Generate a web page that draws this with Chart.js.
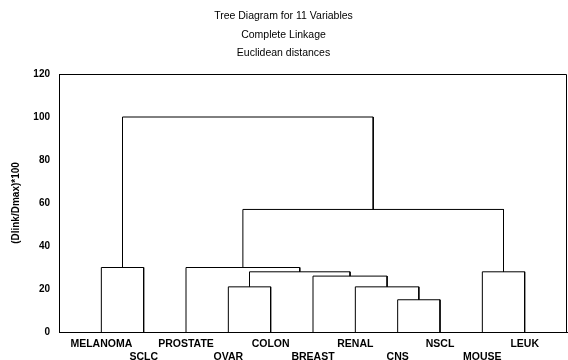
<!DOCTYPE html>
<html><head><meta charset="utf-8">
<script src="https://cdn.jsdelivr.net/npm/chart.js@4/dist/chart.umd.min.js"></script>
<style>html,body{margin:0;padding:0;background:#fff}#wrap{width:568px;height:360px;position:relative}</style>
</head><body><div id="wrap"><canvas id="c"></canvas></div>
<script>
const titleLines = ['Tree Diagram for 11 Variables', 'Complete Linkage', 'Euclidean distances'];
const yAxisTitle = '(Dlink/Dmax)*100';
const leaves = ['MELANOMA', 'SCLC', 'PROSTATE', 'OVAR', 'COLON', 'BREAST', 'RENAL', 'CNS', 'NSCL', 'MOUSE', 'LEUK'];
// Linkage: nodes 0..10 are leaves; merge k creates node 11+k
const mergeLeft   = [0, 3, 7, 6, 5, 12, 2, 9, 17, 11];
const mergeRight  = [1, 4, 8, 13, 14, 15, 16, 10, 18, 19];
const mergeHeight = [30, 21, 15, 21, 26, 28, 30, 28, 57, 100];
const yTicks = [0, 20, 40, 60, 80, 100, 120];

const nodeX = leaves.map((_, i) => i + 1);
const nodeY = leaves.map(() => 0);
const datasets = [];
mergeHeight.forEach((h, k) => {
  const a = mergeLeft[k], b = mergeRight[k];
  datasets.push({
    data: [
      {x: nodeX[a], y: nodeY[a]}, {x: nodeX[a], y: h},
      {x: nodeX[b], y: h}, {x: nodeX[b], y: nodeY[b]}
    ],
    borderColor: '#000', borderWidth: 1, pointRadius: 0, fill: false, tension: 0
  });
  nodeX.push((nodeX[a] + nodeX[b]) / 2);
  nodeY.push(h);
});

const frame = {
  id: 'frame',
  afterDatasetsDraw(chart) {
    const {ctx, chartArea: a} = chart;
    ctx.save();
    ctx.strokeStyle = '#000';
    ctx.lineWidth = 1;
    ctx.beginPath();
    ctx.moveTo(Math.round(a.left) + 0.5, Math.round(a.top) + 0.5);
    ctx.lineTo(Math.round(a.right) - 0.5, Math.round(a.top) + 0.5);
    ctx.lineTo(Math.round(a.right) - 0.5, Math.round(a.bottom));
    ctx.stroke();
    ctx.restore();
  }
};

Chart.defaults.font.family = '"Liberation Sans", Arial, sans-serif';
Chart.defaults.color = '#000';

new Chart(document.getElementById('c'), {
  type: 'line',
  data: {datasets},
  plugins: [frame],
  options: {
    responsive: true, maintainAspectRatio: false, animation: false,
    layout: {padding: {left: 0, right: 1, top: 0, bottom: 0}},
    plugins: {
      legend: {display: false}, tooltip: {enabled: false},
      title: {
        display: true, text: titleLines, color: '#000',
        font: {size: 10.5, weight: 'normal', lineHeight: '18.5px'},
        padding: {top: 7, bottom: 11.5}
      }
    },
    scales: {
      x: {
        type: 'linear', min: 0, max: leaves.length + 1,
        afterBuildTicks: s => { s.ticks = leaves.map((_, i) => ({value: i + 1})); },
        afterFit: s => { s.height = 28; },
        grid: {display: false, drawTicks: false},
        border: {display: true, color: '#000', width: 1},
        ticks: {
          autoSkip: false, maxRotation: 0, minRotation: 0, padding: 6,
          font: {size: 10.5, weight: 'bold', lineHeight: '12.5px'}, color: '#000',
          callback: v => { const i = Math.round(v) - 1; return i % 2 === 0 ? [leaves[i]] : ['', leaves[i]]; }
        }
      },
      y: {
        min: 0, max: 120,
        afterBuildTicks: s => { s.ticks = yTicks.map(v => ({value: v})); },
        afterFit: s => { s.width = 59; },
        grid: {display: false, drawTicks: false},
        border: {display: true, color: '#000', width: 1},
        ticks: {padding: 9, font: {size: 10, weight: 'bold'}, color: '#000'},
        title: {display: true, text: yAxisTitle, color: '#000',
          font: {size: 10, weight: 'bold', lineHeight: 1.2}, padding: {top: 10, bottom: 0}}
      }
    }
  }
});
</script></body></html>
